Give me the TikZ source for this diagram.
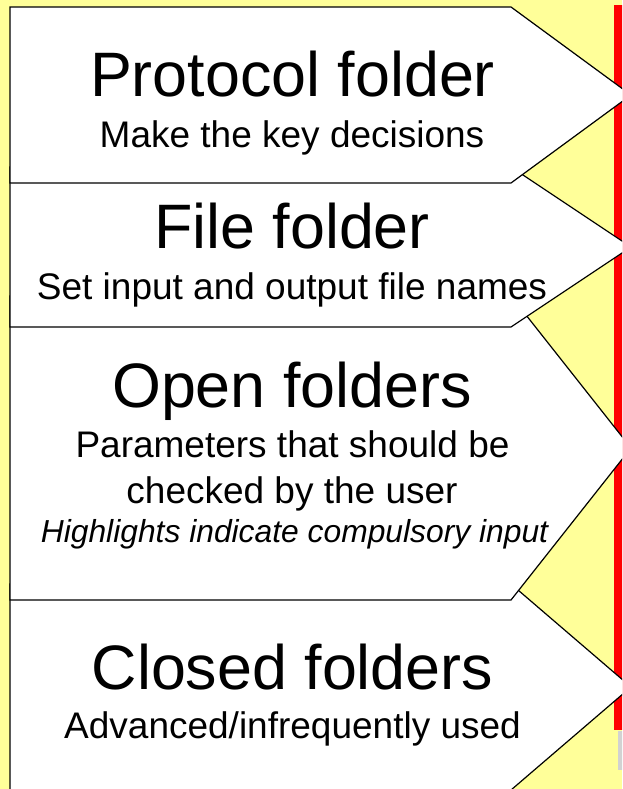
\documentclass[tikz,border=0pt]{standalone}
\usepackage{fontspec}
\setmainfont{Liberation Sans}
\definecolor{bgyellow}{HTML}{FFFF99}
\definecolor{barred}{HTML}{FF0000}
\begin{document}
\begin{tikzpicture}[x=1pt,y=-1pt,
  folder/.style={fill=white,draw=black,line width=1.2pt,line join=miter},
  titletext/.style={anchor=base,inner sep=0pt,font=\fontsize{62.8}{62.8}\selectfont},
  subtext/.style={anchor=base,inner sep=0pt,font=\fontsize{37}{37}\selectfont},
  notetext/.style={anchor=base,inner sep=0pt,font=\fontsize{31.8}{31.8}\selectfont\itshape}]
\useasboundingbox (0,0) rectangle (622,789);
\clip (0,0) rectangle (622,789);
\fill[bgyellow] (0,0) rectangle (622,789);
\fill[barred] (613.5,5) rectangle (623,730);
\fill[gray!35] (618,731) rectangle (623,770);
% folders, back to front
\draw[folder] (10,584) -- (511,584) -- (631,687) -- (511,790) -- (10,790) -- cycle;
\draw[folder] (10,296) -- (511,296) -- (631,448) -- (511,600) -- (10,600) -- cycle;
\draw[folder] (10,167) -- (511,167) -- (631,247) -- (511,327) -- (10,327) -- cycle;
\draw[folder] (10,7) -- (511,7) -- (631,95) -- (511,183) -- (10,183) -- cycle;
% texts
\node[titletext] (t1) at (292.5,96.7) {Protocol folder};
\node[subtext] (s1) at (292,147.3) {Make the key decisions};
\node[titletext] (t2) at (292,248.3) {File folder};
\node[subtext] (s2) at (292,299.3) {Set input and output file names};
\node[titletext] (t3) at (292,407.5) {Open folders};
\node[subtext] (s3a) at (292.5,457.3) {Parameters that should be};
\node[subtext] (s3b) at (292,503.3) {checked by the user};
\node[notetext] (s3c) at (294.5,542.7) {Highlights indicate compulsory input};
\node[titletext] (t4) at (292.5,689) {Closed folders};
\node[subtext] (s4) at (292.5,738) {Advanced/infrequently used};
\end{tikzpicture}
\end{document}
